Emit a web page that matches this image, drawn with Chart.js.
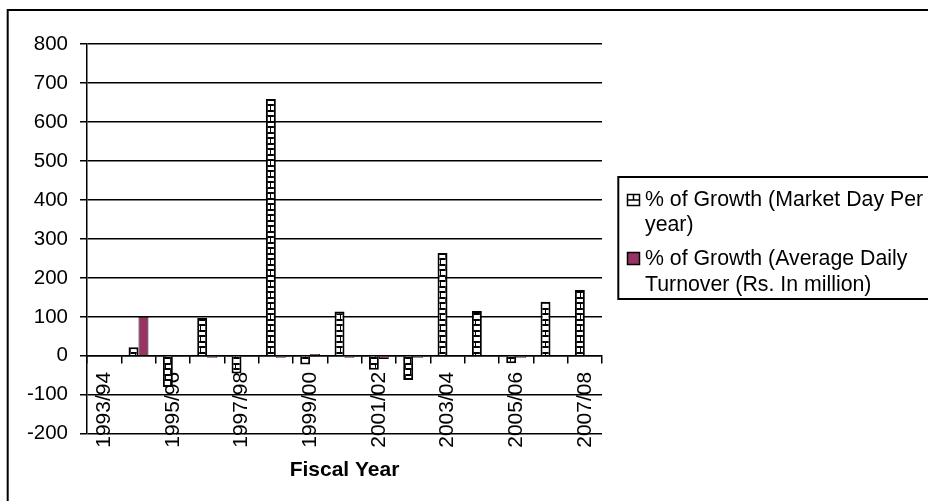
<!DOCTYPE html>
<html>
<head>
<meta charset="utf-8">
<script src="https://cdn.jsdelivr.net/npm/chart.js@4.4.0/dist/chart.umd.min.js"></script>
<style>
html,body{margin:0;padding:0;background:#fff;}
#wrap{width:928px;height:501px;position:relative;overflow:hidden;}
canvas{display:block;}
</style>
</head>
<body>
<div id="wrap"><canvas id="c" width="928" height="501"></canvas></div>
<script>
// ---- data ----
const categories = ['1993/94','1994/95','1995/96','1996/97','1997/98','1998/99','1999/00','2000/01','2001/02','2002/03','2003/04','2004/05','2005/06','2006/07','2007/08'];
const marketDayGrowth = [null, 22, -80, 97, -45, 659, -22, 114, -36, -62, 264, 115, -19, 139, 169];
const turnoverGrowth  = [null, 100, 0, -5, 0, -5, 5, -5, -8, -5, 0, 0, -5, 0, 0];
const yMin = -200, yMax = 800, yStep = 100;
const marketLabelLines = ['% of Growth (Market Day Per', 'year)'];
const turnoverLabelLines = ['% of Growth (Average Daily', 'Turnover (Rs. In million)'];
const xTitle = 'Fiscal Year';

const FONT = '"Liberation Sans", Arial, Helvetica, sans-serif';
const PURPLE = '#993366';

function makePattern() {
  const t = document.createElement('canvas');
  t.width = 10; t.height = 11;
  const g = t.getContext('2d');
  g.fillStyle = '#fff'; g.fillRect(0, 0, 10, 11);
  g.fillStyle = '#000';
  g.fillRect(0, 0, 10, 2);
  g.fillRect(0, 5, 10, 2);
  g.fillRect(5, 2, 1, 3);
  g.fillRect(0, 7, 1, 4);
  return g.createPattern(t, 'repeat');
}
const ctx = document.getElementById('c').getContext('2d');
const pattern = makePattern();

const framePlugin = {
  id: 'frame',
  beforeDraw(chart) {
    const c = chart.ctx;
    c.save();
    c.fillStyle = '#fff';
    c.fillRect(0, 0, chart.width, chart.height);
    c.strokeStyle = '#000';
    c.lineWidth = 2;
    c.beginPath();
    c.moveTo(7.7, chart.height + 2);
    c.lineTo(7.7, 10);
    c.lineTo(chart.width + 2, 10);
    c.stroke();
    c.restore();
  }
};

const legendPlugin = {
  id: 'customLegend',
  afterDraw(chart) {
    const c = chart.ctx;
    c.save();
    c.strokeStyle = '#000';
    c.lineWidth = 2;
    c.strokeRect(618.3, 177, 340, 122);
    // market marker
    c.fillStyle = '#fff';
    c.fillRect(627.5, 194.5, 12, 11);
    c.lineWidth = 1.5;
    c.strokeRect(627.5, 194.5, 12, 11);
    c.beginPath();
    c.moveTo(627.5, 200); c.lineTo(639.5, 200);
    c.moveTo(633.5, 194.5); c.lineTo(633.5, 200);
    c.stroke();
    // turnover marker
    c.fillStyle = PURPLE;
    c.fillRect(627.5, 252.5, 12, 12);
    c.lineWidth = 1.5;
    c.strokeRect(627.5, 252.5, 12, 12);
    // text
    c.fillStyle = '#000';
    c.font = '21.3px ' + FONT;
    c.textBaseline = 'middle';
    c.textAlign = 'left';
    c.fillText(marketLabelLines[0], 645, 200);
    c.fillText(marketLabelLines[1], 645, 225);
    c.fillText(turnoverLabelLines[0], 645, 259);
    c.fillText(turnoverLabelLines[1], 645, 285);
    c.restore();
  }
};

new Chart(ctx, {
  type: 'bar',
  data: {
    labels: categories,
    datasets: [
      {
        label: marketLabelLines.join(' '),
        data: marketDayGrowth,
        backgroundColor: pattern,
        borderColor: '#000',
        borderWidth: 2,
        categoryPercentage: 0.58,
        barPercentage: 1.0
      },
      {
        label: turnoverLabelLines.join(' '),
        data: turnoverGrowth,
        backgroundColor: PURPLE,
        borderColor: '#000',
        borderWidth: 1,
        categoryPercentage: 0.58,
        barPercentage: 1.0
      }
    ]
  },
  options: {
    responsive: false,
    animation: false,
    devicePixelRatio: 1,
    layout: { padding: { left: 0, top: 44, right: 326, bottom: 18 } },
    plugins: {
      legend: { display: false },
      tooltip: { enabled: false },
      title: {
        display: true,
        text: xTitle,
        position: 'bottom',
        fullSize: false,
        color: '#000',
        font: { family: FONT, size: 21, weight: 'bold' },
        padding: { top: 24, bottom: 0 }
      }
    },
    scales: {
      x: {
        position: { y: 0 },
        offset: true,
        grid: { display: true, drawOnChartArea: false, drawTicks: true, tickLength: 7, color: '#000', lineWidth: 1.5, offset: true },
        border: { display: true, color: '#000', width: 1.5 },
        ticks: {
          autoSkip: false,
          minRotation: 90,
          maxRotation: 90,
          padding: 9,
          color: '#000',
          font: { family: FONT, size: 21 },
          callback: function (v, i) { return i % 2 === 0 ? categories[i] : ''; }
        },
        afterFit(s) { s.height = 0; }
      },
      y: {
        min: yMin,
        max: yMax,
        ticks: { stepSize: yStep, color: '#000', padding: 12, font: { family: FONT, size: 20.5 } },
        grid: { color: '#000', lineWidth: 1.5, tickLength: 7, drawTicks: true },
        border: { display: true, color: '#000', width: 1.5 },
        afterFit(s) { s.width = 87; }
      }
    }
  },
  plugins: [framePlugin, legendPlugin]
});
</script>
</body>
</html>
